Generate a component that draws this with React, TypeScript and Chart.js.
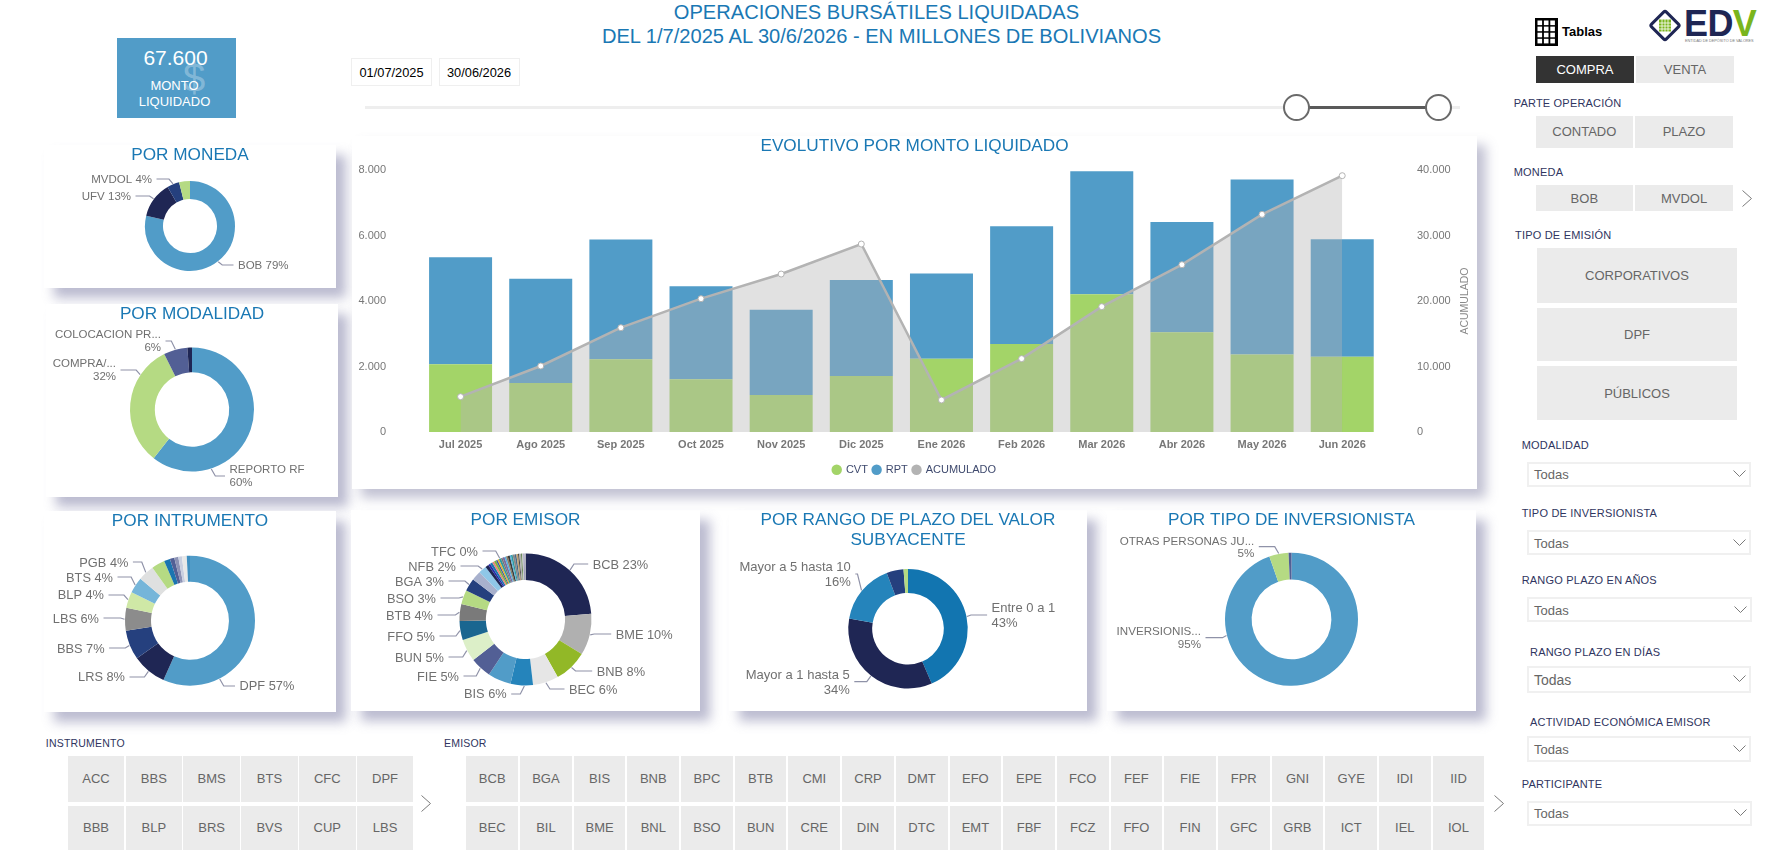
import React, { useEffect, useRef } from "react";
import { Chart, registerables } from "chart.js";

Chart.register(...registerables);

const FONT = '"Liberation Sans", Arial, sans-serif';
const BLUE = "#519cc8";
const GREEN = "#a3d468";
const LIGHTGREEN = "#b5da83";
const NAVY = "#1f2654";
const MIDNAVY = "#25407e";
const INDIGO = "#525f95";
const TITLE = "#1a78b4";
const LABELNAVY = "#2f3560";
const GREYTEXT = "#666666";

// ---------- evolutivo ----------
const months = ["Jul 2025", "Ago 2025", "Sep 2025", "Oct 2025", "Nov 2025", "Dic 2025", "Ene 2026", "Feb 2026", "Mar 2026", "Abr 2026", "May 2026", "Jun 2026"];
const cvtValues = [2070, 1500, 2220, 1610, 1130, 1710, 2240, 2690, 4210, 3050, 2370, 2300];
const rptValues = [3270, 3180, 3660, 2840, 2600, 2930, 2600, 3590, 3750, 3360, 5340, 3590];
const acumulado = [5390, 10080, 15930, 20360, 24120, 28700, 4890, 11200, 19140, 25550, 33230, 39140];

// ---------- moneda ----------
const monedaLabels = ["BOB 79%", "UFV 13%", "MVDOL 4%", ""];
const monedaValues = [78.7, 13, 4.4, 3.9];
const monedaColors = [BLUE, NAVY, MIDNAVY, LIGHTGREEN];

// ---------- modalidad ----------
const modalidadLabels = ["REPORTO RF\n60%", "COMPRA/...\n32%", "COLOCACION PR...\n6%", ""];
const modalidadValues = [60.6, 32, 6.2, 1.2];
const modalidadColors = [BLUE, LIGHTGREEN, INDIGO, NAVY];

// ---------- instrumento ----------
const instrumentoLabels = ["DPF 57%", "LRS 8%", "BBS 7%", "LBS 6%", "BLP 4%", "BTS 4%", "PGB 4%", "", "", "", "", "", "", ""];
const instrumentoValues = [56.7, 8.5, 7.3, 5.7, 4, 4, 4, 3.3, 1.5, 1.1, 1, 0.9, 1.2, 0.8];
const instrumentoColors = [BLUE, NAVY, MIDNAVY, "#8c8c8c", "#cfe8a6", "#75b5d9", "#dfe0e0", LIGHTGREEN, "#1a75b0", INDIGO, "#8d93b5", "#c9cfe0", "#e8e8e8", "#3f8fc0"];

// ---------- emisor ----------
const emisorLabels = ["BCB 23%", "BME 10%", "BNB 8%", "BEC 6%", "BIS 6%", "", "FIE 5%", "BUN 5%", "FFO 5%", "BTB 4%", "BSO 3%", "BGA 3%", "", "NFB 2%", "", "", "", "", "", "", "", "TFC 0%", "", "", "", "", "", "", "", "", "", "", "", "", "", "", "", ""];
const emisorValues = [23.3, 10, 8, 6.2, 5.4, 5.6, 5.1, 5.4, 4.6, 4.1, 3.4, 3.1, 2.3, 1.9, 0.8, 0.5, 0.6, 0.5, 0.5, 0.4, 0.4, 0.5, 0.4, 0.5, 0.4, 0.4, 0.5, 0.3, 0.4, 0.5, 0.4, 0.4, 0.3, 0.4, 0.3, 0.3, 0.3, 0.2];
const emisorColors = [NAVY, "#b0b0b0", "#92b827", "#e6e6e6", "#2584bb", BLUE, INDIGO, "#dcefc8", "#1a6690", "#7a7a7a", LIGHTGREEN, MIDNAVY, "#a8b1cd", "#8fc7e8", NAVY, "#2a2aa8", "#1a75b0", "#e8857a", "#7db33a", "#445aa0", "#e8b030", "#2c9aa0", "#777777", "#7a6aa0", "#55b0e0", "#8a7a60", "#3a3a3a", "#55b0e0", "#2c9aa0", "#888888", "#4a6a8a", "#c0a070", "#4a4a4a", "#b0b0b0", "#6a8a5a", "#c8c8c8", "#8a8ab0", "#d0d0d0"];

// ---------- rango ----------
const rangoLabels = ["Entre 0 a 1\n43%", "Mayor a 1 hasta 5\n34%", "Mayor a 5 hasta 10\n16%", "", ""];
const rangoValues = [43.5, 34.2, 16.5, 4.6, 1.2];
const rangoColors = ["#1275b0", NAVY, "#2584bb", MIDNAVY, LIGHTGREEN];

// ---------- inversionista ----------
const inversionistaLabels = ["INVERSIONIS...\n95%", "OTRAS PERSONAS JU...\n5%", ""];
const inversionistaValues = [94.6, 4.7, 0.7];
const inversionistaColors = [BLUE, LIGHTGREEN, INDIGO];

// ---------- slicers ----------
const instrumentoRow1 = ["ACC", "BBS", "BMS", "BTS", "CFC", "DPF"];
const instrumentoRow2 = ["BBB", "BLP", "BRS", "BVS", "CUP", "LBS"];
const emisorRow1 = ["BCB", "BGA", "BIS", "BNB", "BPC", "BTB", "CMI", "CRP", "DMT", "EFO", "EPE", "FCO", "FEF", "FIE", "FPR", "GNI", "GYE", "IDI", "IID"];
const emisorRow2 = ["BEC", "BIL", "BME", "BNL", "BSO", "BUN", "CRE", "DIN", "DTC", "EMT", "FBF", "FCZ", "FFO", "FIN", "GFC", "GRB", "ICT", "IEL", "IOL"];

// ---------- label placement (page pixels); the leader starts on the slice itself ----------
type Spot = { i: number; side: "l" | "r"; x: number; y: number; ly: number; at?: number };
const monedaSpots: Spot[] = [
  { i: 0, side: "r", x: 238, y: 265, ly: 265 },
  { i: 1, side: "l", x: 131, y: 196, ly: 196 },
  { i: 2, side: "l", x: 152, y: 179, ly: 179 },
];
const modalidadSpots: Spot[] = [
  { i: 0, side: "r", x: 229.5, y: 469, ly: 476, at: 162 },
  { i: 1, side: "l", x: 116, y: 363, ly: 370, at: 304 },
  { i: 2, side: "l", x: 161, y: 334, ly: 341 },
];
const instrumentoSpots: Spot[] = [
  { i: 0, side: "r", x: 239.5, y: 685, ly: 686, at: 153 },
  { i: 1, side: "l", x: 125, y: 676.7, ly: 677 },
  { i: 2, side: "l", x: 104.6, y: 648, ly: 648 },
  { i: 3, side: "l", x: 99, y: 618, ly: 618 },
  { i: 4, side: "l", x: 104, y: 594.7, ly: 595 },
  { i: 5, side: "l", x: 113, y: 577, ly: 577 },
  { i: 6, side: "l", x: 128.4, y: 562, ly: 562 },
];
const emisorSpots: Spot[] = [
  { i: 0, side: "r", x: 592.7, y: 564, ly: 564, at: 42 },
  { i: 1, side: "r", x: 615.7, y: 634, ly: 634 },
  { i: 2, side: "r", x: 596.7, y: 671, ly: 671 },
  { i: 3, side: "r", x: 569, y: 689, ly: 689 },
  { i: 4, side: "l", x: 506.7, y: 693, ly: 694, at: 181 },
  { i: 6, side: "l", x: 459, y: 676, ly: 676 },
  { i: 7, side: "l", x: 444, y: 657, ly: 657 },
  { i: 8, side: "l", x: 435, y: 636, ly: 636 },
  { i: 9, side: "l", x: 433, y: 615, ly: 615 },
  { i: 10, side: "l", x: 436, y: 598, ly: 598 },
  { i: 11, side: "l", x: 444, y: 581, ly: 581 },
  { i: 13, side: "l", x: 456, y: 566, ly: 566 },
  { i: 21, side: "l", x: 478, y: 551, ly: 551 },
];
const rangoSpots: Spot[] = [
  { i: 0, side: "r", x: 991.6, y: 607.7, ly: 615 },
  { i: 1, side: "l", x: 849.8, y: 674, ly: 681.7 },
  { i: 2, side: "l", x: 850.8, y: 566.7, ly: 574 },
];
const inversionistaSpots: Spot[] = [
  { i: 0, side: "l", x: 1201, y: 631, ly: 637.7, at: 256 },
  { i: 1, side: "l", x: 1254.3, y: 540.7, ly: 546.7 },
];

type Rect = { l: number; t: number; r: number; b: number };

function Card({ rect, children, soft }: { rect: Rect; children?: React.ReactNode; soft?: boolean }) {
  return (
    <div
      style={{
        position: "absolute",
        left: rect.l,
        top: rect.t,
        width: rect.r - rect.l,
        height: rect.b - rect.t,
        background: "#fff",
        boxShadow: soft ? "9px 9px 11px rgba(110,110,150,0.42)" : "10px 10px 11px rgba(105,105,150,0.45)",
      }}
    >
      {children}
    </div>
  );
}

type DonutProps = {
  rect: Rect;
  title: string | string[];
  names: string[];
  values: number[];
  colors: string[];
  spots: Spot[];
  cy: number;
  radius: number;
  labelSize: number;
  lineHeight: number;
};

function Donut({ rect, title, names, values, colors, spots, cy, radius, labelSize, lineHeight }: DonutProps) {
  const ref = useRef<HTMLCanvasElement>(null);
  const w = rect.r - rect.l;
  const h = rect.b - rect.t;
  useEffect(() => {
    const titleSize = 17.2;
    const lines = Array.isArray(title) ? title.length : 1;
    const titleH = lines * titleSize * 1.15 + 0.4;
    const padBottom = Math.max(0, titleH + h - 2 * (cy - rect.t));
    const labelPlugin = {
      id: "leaderLabels",
      afterDatasetsDraw(chart: any) {
        const ctx = chart.ctx;
        const arcs = chart.getDatasetMeta(0).data;
        ctx.save();
        ctx.font = `${labelSize}px ${FONT}`;
        ctx.textBaseline = "middle";
        spots.forEach((s) => {
          const arc = arcs[s.i];
          const mid = s.at !== undefined ? (s.at * Math.PI) / 180 - Math.PI / 2 : (arc.startAngle + arc.endAngle) / 2;
          const ax = arc.x + (arc.outerRadius + 0.5) * Math.cos(mid);
          const ay = arc.y + (arc.outerRadius + 0.5) * Math.sin(mid);
          const sign = s.side === "r" ? 1 : -1;
          const tx = s.x - rect.l;
          const ty = s.y - rect.t + 1;
          const ly = s.ly - rect.t;
          const ex = tx - sign * 4.5;
          const knee = ax + sign * Math.min(4, Math.abs(ex - ax));
          ctx.beginPath();
          ctx.moveTo(ax, ay);
          ctx.lineTo(knee, ly);
          ctx.lineTo(ex, ly);
          ctx.strokeStyle = "#8f92a8";
          ctx.lineWidth = 1.2;
          ctx.stroke();
          ctx.fillStyle = "#707070";
          ctx.textAlign = s.side === "r" ? "left" : "right";
          names[s.i].split("\n").forEach((line, k) => {
            ctx.fillText(line, tx, ty + k * lineHeight);
          });
        });
        ctx.restore();
      },
    };
    const chart = new Chart(ref.current as HTMLCanvasElement, {
      type: "doughnut",
      data: {
        labels: names,
        datasets: [{ data: values, backgroundColor: colors, borderWidth: 0, radius }],
      },
      options: {
        responsive: false,
        animation: false,
        cutout: "60%",
        layout: { padding: { top: 0, bottom: padBottom, left: 0, right: 0 } },
        plugins: {
          legend: { display: false },
          tooltip: { enabled: false },
          title: {
            display: true,
            text: title,
            color: TITLE,
            font: { family: FONT, size: titleSize, weight: "normal", lineHeight: 1.15 },
            padding: { top: 0.4, bottom: 0 },
          },
        },
      } as any,
      plugins: [labelPlugin],
    });
    return () => chart.destroy();
  }, []);
  return <canvas ref={ref} width={w} height={h} style={{ display: "block", width: w, height: h }} />;
}

function Evolutivo({ rect }: { rect: Rect }) {
  const ref = useRef<HTMLCanvasElement>(null);
  const w = rect.r - rect.l;
  const h = rect.b - rect.t;
  useEffect(() => {
    const fmt = (v: any) => String(v).replace(/\B(?=(\d{3})+$)/g, ".");
    const noOverhang = (s: any) => {
      s.paddingTop = 0;
      s.paddingBottom = 0;
      s.paddingLeft = 0;
      s.paddingRight = 0;
    };
    const axisTitle = {
      id: "acumTitle",
      afterDraw(chart: any) {
        const ctx = chart.ctx;
        ctx.save();
        ctx.translate(chart.scales.y1.right - 12, (chart.chartArea.top + chart.chartArea.bottom) / 2);
        ctx.rotate(-Math.PI / 2);
        ctx.font = `10.5px ${FONT}`;
        ctx.fillStyle = "#8a8a8a";
        ctx.textAlign = "center";
        ctx.textBaseline = "middle";
        ctx.fillText("ACUMULADO", 0, 0);
        ctx.restore();
      },
    };
    const chart = new Chart(ref.current as HTMLCanvasElement, {
      type: "bar",
      data: {
        labels: months,
        datasets: [
          { type: "bar", label: "CVT", data: cvtValues, backgroundColor: GREEN, stack: "m", order: 2, yAxisID: "y", categoryPercentage: 0.786, barPercentage: 1 },
          { type: "bar", label: "RPT", data: rptValues, backgroundColor: BLUE, stack: "m", order: 2, yAxisID: "y", categoryPercentage: 0.786, barPercentage: 1 },
          {
            type: "line",
            label: "ACUMULADO",
            data: acumulado,
            yAxisID: "y1",
            order: 1,
            tension: 0,
            fill: "origin",
            backgroundColor: "rgba(179,179,179,0.4)",
            borderColor: "#b3b3b3",
            borderWidth: 2.5,
            pointRadius: 3,
            pointBackgroundColor: "#ffffff",
            pointBorderColor: "#b3b3b3",
            pointBorderWidth: 1,
          },
        ],
      },
      options: {
        responsive: false,
        animation: false,
        layout: { autoPadding: false, padding: { top: 0, bottom: 3.75, left: 0, right: 0 } },
        plugins: {
          tooltip: { enabled: false },
          title: {
            display: true,
            text: "EVOLUTIVO POR MONTO LIQUIDADO",
            color: TITLE,
            font: { family: FONT, size: 17.2, weight: "normal", lineHeight: 1.2 },
            padding: { top: 0, bottom: 13.4 },
          },
          legend: {
            position: "bottom",
            labels: {
              usePointStyle: true,
              pointStyle: "circle",
              boxWidth: 7.4,
              boxHeight: 7.4,
              padding: 5,
              color: "#3f4a6e",
              font: { family: FONT, size: 11 },
              generateLabels(c: any) {
                return c.data.datasets.map((d: any, i: number) => {
                  const col = d.type === "line" ? "#b3b3b3" : d.backgroundColor;
                  return { text: d.label, fillStyle: col, strokeStyle: col, lineWidth: 0, pointStyle: "circle", datasetIndex: i, fontColor: "#3f4a6e" };
                });
              },
            },
          },
        },
        scales: {
          x: {
            stacked: true,
            grid: { display: false, drawTicks: false },
            border: { display: false },
            ticks: { color: "#777777", padding: 6.5, autoSkip: false, maxRotation: 0, font: { family: FONT, size: 11, weight: "bold" } },
            afterFit(s: any) {
              noOverhang(s);
              s.height = 27.25;
            },
          },
          y: {
            stacked: true,
            min: 0,
            max: 8000,
            grid: { display: false, drawTicks: false },
            border: { display: false },
            ticks: { stepSize: 2000, callback: fmt, color: "#777777", padding: 34.5, font: { family: FONT, size: 11 } },
            afterFit(s: any) {
              noOverhang(s);
              s.width = 68.5;
            },
          },
          y1: {
            position: "right",
            min: 0,
            max: 40000,
            grid: { display: false, drawTicks: false },
            border: { display: false },
            ticks: { stepSize: 10000, callback: fmt, color: "#777777", padding: 34.7, font: { family: FONT, size: 11 } },
            afterFit(s: any) {
              noOverhang(s);
              s.width = 94.7;
            },
          },
        },
      } as any,
      plugins: [axisTitle],
    });
    return () => chart.destroy();
  }, []);
  return <canvas ref={ref} width={w} height={h} style={{ display: "block", width: w, height: h }} />;
}

const abs = (l: number, t: number, w: number, h: number): React.CSSProperties => ({ position: "absolute", left: l, top: t, width: w, height: h });

function Btn({ l, t, r, b, text, dark, size = 13 }: { l: number; t: number; r: number; b: number; text: string; dark?: boolean; size?: number }) {
  return (
    <div
      style={{
        ...abs(l, t, r - l, b - t),
        background: dark ? "#333333" : "#ebebeb",
        color: dark ? "#ffffff" : GREYTEXT,
        fontSize: size,
        display: "flex",
        alignItems: "center",
        justifyContent: "center",
      }}
    >
      {text}
    </div>
  );
}

function Label({ x, y, text, size = 11 }: { x: number; y: number; text: string; size?: number }) {
  return (
    <div style={{ position: "absolute", left: x, top: y - 8, height: 16, lineHeight: "16px", fontSize: size, color: LABELNAVY, whiteSpace: "nowrap", letterSpacing: 0.2 }}>
      {text}
    </div>
  );
}

function Chevron({ x, y, w, h, dir = "right" }: { x: number; y: number; w: number; h: number; dir?: "right" | "down" }) {
  const d = dir === "right" ? `M0.5 0.5 L${w - 0.5} ${h / 2} L0.5 ${h - 0.5}` : `M0.5 0.5 L${w / 2} ${h - 0.5} L${w - 0.5} 0.5`;
  return (
    <svg style={{ position: "absolute", left: x, top: y }} width={w} height={h}>
      <path d={d} fill="none" stroke="#7a7a7a" strokeWidth={1} />
    </svg>
  );
}

function Dropdown({ t, b, r = 1750.7, size = 13 }: { t: number; b: number; r?: number; size?: number }) {
  return (
    <div style={{ ...abs(1527, t, r - 1527, b - t), boxSizing: "border-box", border: "2px solid #f0f0f0", background: "#fff" }}>
      <div style={{ position: "absolute", left: 5, top: 1, bottom: 0, display: "flex", alignItems: "center", color: GREYTEXT, fontSize: size }}>Todas</div>
      <Chevron x={r - 1527 - 20} y={(b - t) / 2 - 6} w={13} h={7} dir="down" />
    </div>
  );
}

function Tile({ rows }: { rows: { names: string[]; left: number; step: number; width: number; top: number; bottom: number }[] }) {
  return (
    <>
      {rows.flatMap((row) =>
        row.names.map((n, i) => <Btn key={row.top + n} l={row.left + i * row.step} r={row.left + i * row.step + row.width} t={row.top} b={row.bottom} text={n} />)
      )}
    </>
  );
}

function TablesIcon() {
  const cells = [];
  for (let r = 0; r < 4; r++) for (let c = 0; c < 3; c++) cells.push(<rect key={`${r}-${c}`} x={2.5 + c * 6.4} y={2.5 + r * 6.1} width={4.6} height={4.6} fill="#fff" />);
  return (
    <svg style={{ position: "absolute", left: 1535, top: 18 }} width={23} height={28}>
      <rect x={0} y={0} width={23} height={28} fill="#000" />
      {cells}
    </svg>
  );
}

function Logo() {
  return (
    <>
      <svg style={{ position: "absolute", left: 1647, top: 7 }} width={36} height={37}>
        <rect x={7.5} y={8} width={21} height={21} transform="rotate(45 18 18.5)" fill="#fff" stroke={NAVY} strokeWidth={3} rx={2} />
        <rect x={12} y={12.5} width={12} height={12} fill="#7ab51d" />
        <path d="M15 12 V25 M18 11 V26 M21 12 V25 M11 16 H25 M11 19 H25 M11 22 H25" stroke="#fff" strokeWidth={0.8} />
      </svg>
      <div style={{ position: "absolute", left: 1684, top: 4, height: 40, lineHeight: "40px", fontSize: 36, fontWeight: 700, color: NAVY, letterSpacing: -0.6, whiteSpace: "nowrap" }}>
        ED<span style={{ color: "#7ab51d" }}>V</span>
      </div>
      <div style={{ position: "absolute", left: 1685, top: 38, height: 6, lineHeight: "6px", fontSize: 3.8, color: "#777", whiteSpace: "nowrap" }}>ENTIDAD DE DEPÓSITO DE VALORES</div>
    </>
  );
}

export default function App() {
  const monedaRect = { l: 44, t: 145, r: 336, b: 288 };
  const modalidadRect = { l: 46, t: 304, r: 338, b: 497 };
  const instrumentoRect = { l: 44, t: 511, r: 336, b: 712 };
  const emisorRect = { l: 351, t: 510, r: 700, b: 711 };
  const rangoRect = { l: 729, t: 510, r: 1087, b: 711 };
  const inversionistaRect = { l: 1107, t: 510, r: 1476, b: 711 };
  const evolutivoRect = { l: 352, t: 136, r: 1477, b: 489 };
  return (
    <div style={{ position: "fixed", left: 0, top: 0, width: 1776, height: 854, overflow: "hidden", background: "#fff", fontFamily: FONT }}>
      {/* encabezado */}
      <div style={{ position: "absolute", left: 481.5, top: 1, width: 800, textAlign: "center", color: TITLE, fontSize: 20.1, lineHeight: "23.5px" }}>
        <span style={{ position: "relative", left: -5 }}>OPERACIONES BURSÁTILES LIQUIDADAS</span>
        <br />
        DEL 1/7/2025 AL 30/6/2026 - EN MILLONES DE BOLIVIANOS
      </div>

      {/* KPI */}
      <div style={{ ...abs(117, 38, 119, 80), background: BLUE, color: "#fff", textAlign: "center" }}>
        <div style={{ position: "absolute", left: 66, top: 18, fontSize: 40, lineHeight: "44px", color: "rgba(255,255,255,0.3)" }}>$</div>
        <div style={{ position: "absolute", left: 0, width: 117, top: 7, fontSize: 21, lineHeight: "26px" }}>67.600</div>
        <div style={{ position: "absolute", left: 0, width: 115, top: 40, fontSize: 13, lineHeight: "16px" }}>
          MONTO
          <br />
          LIQUIDADO
        </div>
      </div>

      {/* fechas */}
      {["01/07/2025", "30/06/2026"].map((d, i) => (
        <div key={d} style={{ ...abs(351 + i * 87.5, 58, 81, 28), boxSizing: "border-box", border: "1px solid #efefef", fontSize: 12.8, color: "#000", display: "flex", alignItems: "center", justifyContent: "center" }}>
          {d}
        </div>
      ))}

      {/* deslizador */}
      <div style={{ ...abs(365, 105.5, 1095, 3), background: "#eeeeee" }} />
      <div style={{ ...abs(1296, 105.5, 143, 3), background: "#5a5a5a" }} />
      {[1296, 1438.7].map((x) => (
        <div key={x} style={{ ...abs(x - 13.5, 93.5, 27, 27), boxSizing: "border-box", borderRadius: "50%", background: "#fff", border: "2px solid #6a6a6a" }} />
      ))}

      {/* tarjetas */}
      <Card rect={monedaRect}>
        <Donut rect={monedaRect} title="POR MONEDA" names={monedaLabels} values={monedaValues} colors={monedaColors} spots={monedaSpots} cy={226} radius={45} labelSize={11.5} lineHeight={13} />
      </Card>
      <Card rect={modalidadRect}>
        <Donut rect={modalidadRect} title="POR MODALIDAD" names={modalidadLabels} values={modalidadValues} colors={modalidadColors} spots={modalidadSpots} cy={409.5} radius={62} labelSize={11.5} lineHeight={13} />
      </Card>
      <Card rect={instrumentoRect}>
        <Donut rect={instrumentoRect} title="POR INTRUMENTO" names={instrumentoLabels} values={instrumentoValues} colors={instrumentoColors} spots={instrumentoSpots} cy={620.7} radius={65} labelSize={12.8} lineHeight={15} />
      </Card>
      <Card rect={emisorRect}>
        <Donut rect={emisorRect} title="POR EMISOR" names={emisorLabels} values={emisorValues} colors={emisorColors} spots={emisorSpots} cy={619.5} radius={66} labelSize={12.8} lineHeight={15} />
      </Card>
      <Card rect={rangoRect}>
        <Donut rect={rangoRect} title={["POR RANGO DE PLAZO DEL VALOR", "SUBYACENTE"]} names={rangoLabels} values={rangoValues} colors={rangoColors} spots={rangoSpots} cy={628.7} radius={59.7} labelSize={13} lineHeight={15} />
      </Card>
      <Card rect={inversionistaRect}>
        <Donut rect={inversionistaRect} title="POR TIPO DE INVERSIONISTA" names={inversionistaLabels} values={inversionistaValues} colors={inversionistaColors} spots={inversionistaSpots} cy={619.3} radius={66.5} labelSize={11.6} lineHeight={12.5} />
      </Card>
      <Card rect={evolutivoRect} soft>
        <Evolutivo rect={evolutivoRect} />
      </Card>

      {/* panel derecho */}
      <TablesIcon />
      <div style={{ position: "absolute", left: 1562, top: 24, lineHeight: "16px", fontSize: 13, fontWeight: 700, color: "#000" }}>Tablas</div>
      <Logo />
      <Btn l={1536} r={1634} t={56} b={83} text="COMPRA" dark />
      <Btn l={1636} r={1734} t={56} b={83} text="VENTA" />
      <Label x={1513.7} y={103} text="PARTE OPERACIÓN" />
      <Btn l={1536} r={1632.7} t={116} b={147.7} text="CONTADO" />
      <Btn l={1635} r={1733} t={116} b={147.7} text="PLAZO" />
      <Label x={1513.7} y={172} text="MONEDA" />
      <Btn l={1536} r={1632.7} t={185} b={211} text="BOB" />
      <Btn l={1635} r={1733} t={185} b={211} text="MVDOL" />
      <Chevron x={1742} y={190} w={10} h={17} />
      <Label x={1515} y={235} text="TIPO DE EMISIÓN" />
      <Btn l={1537} r={1737} t={248} b={303} text="CORPORATIVOS" />
      <Btn l={1537} r={1737} t={308} b={361} text="DPF" />
      <Btn l={1537} r={1737} t={366} b={420} text="PÚBLICOS" />

      <Label x={1521.7} y={445} text="MODALIDAD" />
      <Dropdown t={461.7} b={487.3} />
      <Label x={1521.7} y={513} text="TIPO DE INVERSIONISTA" />
      <Dropdown t={530} b={555.3} />
      <Label x={1521.7} y={580} text="RANGO PLAZO EN AÑOS" />
      <Dropdown t={597} b={622} r={1751.7} />
      <Label x={1530} y={652} text="RANGO PLAZO EN DÍAS" />
      <Dropdown t={666} b={692.7} size={14} />
      <Label x={1530} y={721.7} text="ACTIVIDAD ECONÓMICA EMISOR" />
      <Dropdown t={736} b={761.7} />
      <Label x={1521.7} y={784.3} text="PARTICIPANTE" />
      <Dropdown t={800.7} b={826.3} r={1751.7} />

      {/* segmentadores inferiores */}
      <Label x={45.8} y={743} text="INSTRUMENTO" size={10.5} />
      <Label x={444} y={743} text="EMISOR" size={10.5} />
      <Tile
        rows={[
          { names: instrumentoRow1, left: 67.8, step: 57.8, width: 56.5, top: 756, bottom: 801.7 },
          { names: instrumentoRow2, left: 67.8, step: 57.8, width: 56.5, top: 805.7, bottom: 850 },
          { names: emisorRow1, left: 466.4, step: 53.68, width: 51.7, top: 756, bottom: 801.7 },
          { names: emisorRow2, left: 466.4, step: 53.68, width: 51.7, top: 805.7, bottom: 850 },
        ]}
      />
      <Chevron x={421.4} y={795} w={10} h={17} />
      <Chevron x={1494} y={795} w={10} h={17} />
    </div>
  );
}
